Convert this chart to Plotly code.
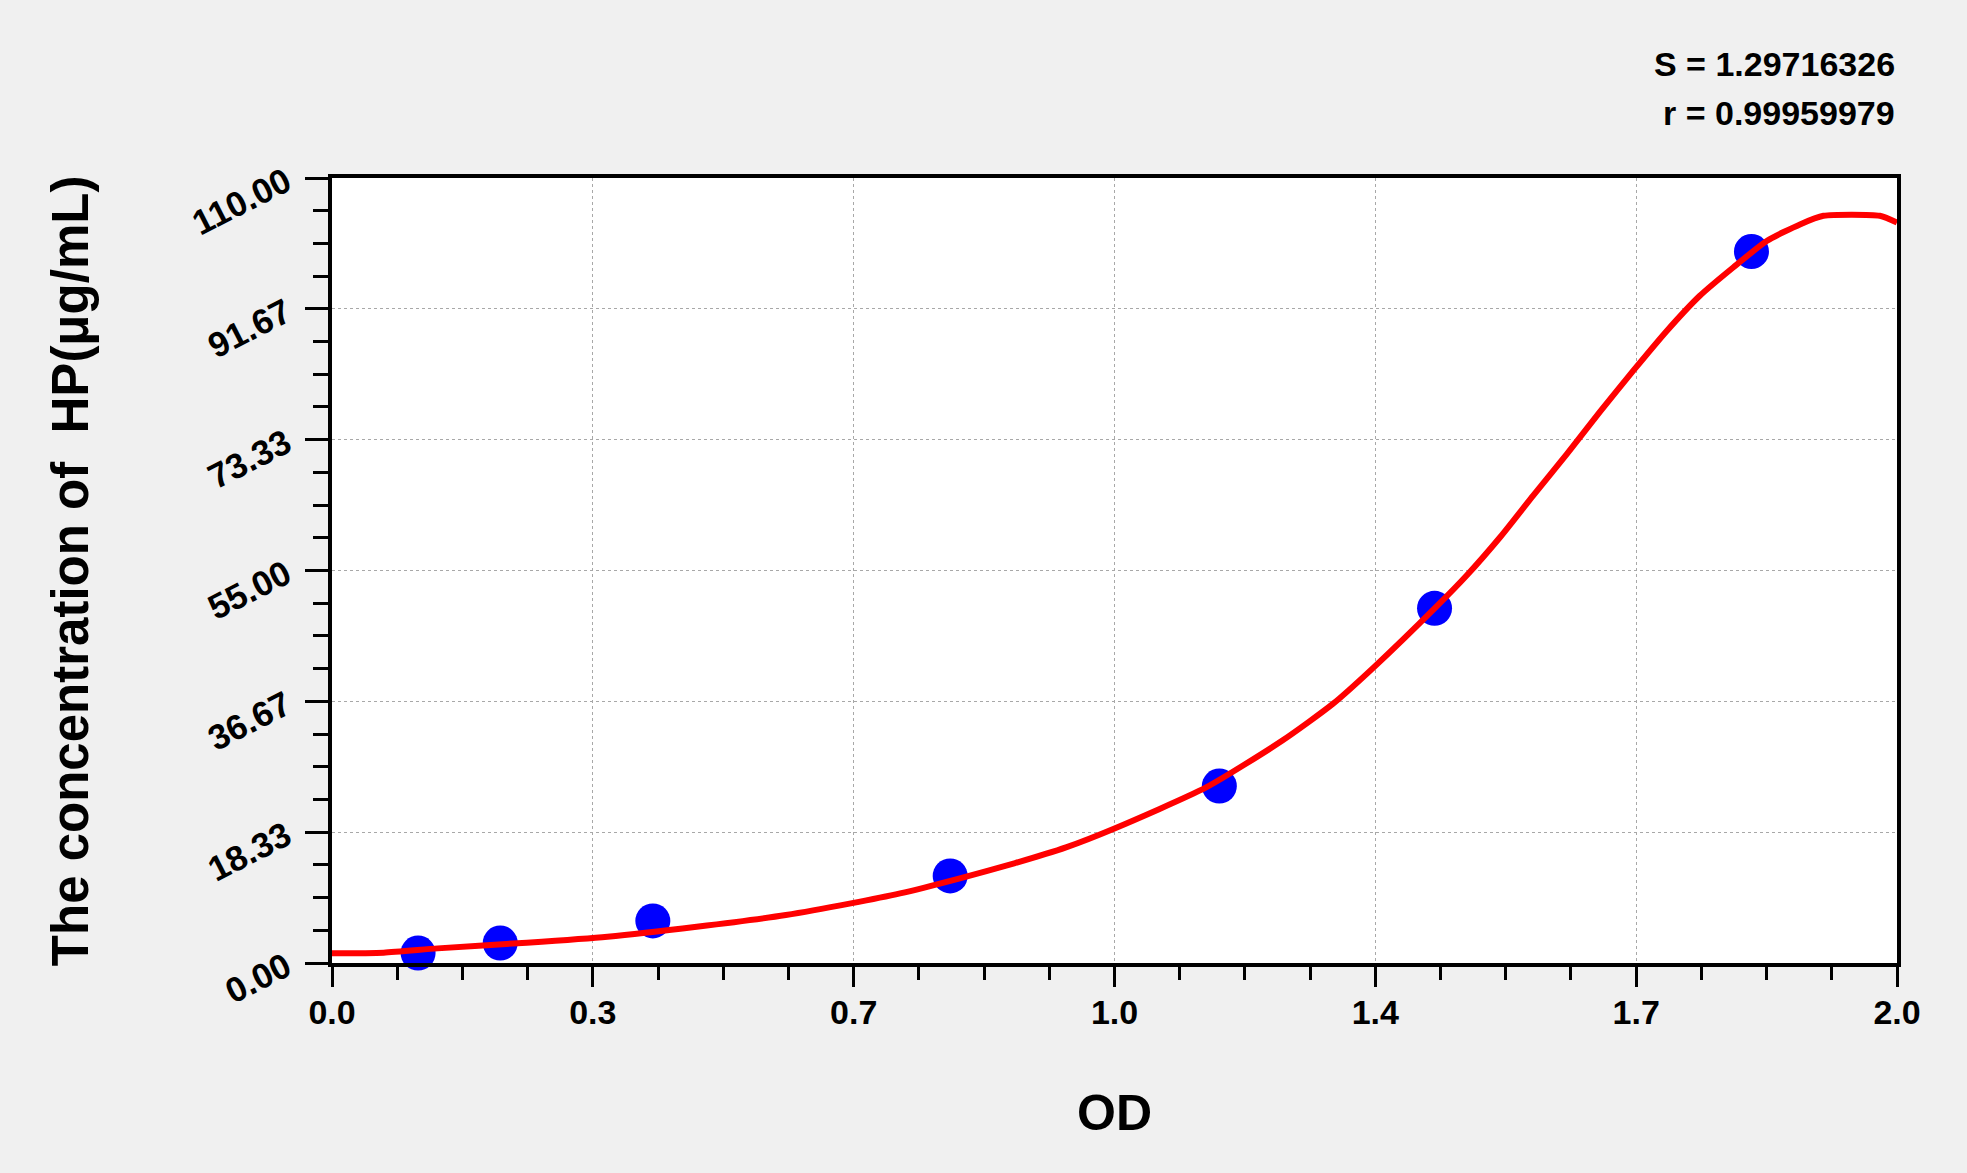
import plotly.graph_objects as go

# Standard points (OD, concentration)
od_points = [0.110, 0.215, 0.410, 0.790, 1.134, 1.409, 1.814]
conc_points = [1.4, 2.8, 5.9, 12.2, 24.8, 49.7, 99.7]

# Fitted curve
curve_od = [0.0, 0.066, 0.135, 0.249, 0.352, 0.466, 0.580, 0.663, 0.726, 0.800,
            0.873, 0.938, 1.000, 1.117, 1.215, 1.279, 1.332, 1.411, 1.450, 1.493, 1.535,
            1.578, 1.620, 1.663, 1.706, 1.748, 1.791, 1.834, 1.876, 1.906, 1.978, 2.0]
curve_conc = [1.36, 1.45, 2.05, 2.85, 3.69, 5.08, 6.72, 8.35, 9.75, 11.8,
              14.0, 16.2, 18.85, 24.6, 31.2, 36.3, 41.5, 49.9, 54.3, 59.7, 65.5,
              71.3, 77.2, 83.0, 88.6, 93.5, 97.5, 101.2, 103.5, 104.7, 104.7, 103.75]

x_tickvals = [0, 1/3, 2/3, 1, 4/3, 5/3, 2]
x_ticktext = ["0.0", "0.3", "0.7", "1.0", "1.4", "1.7", "2.0"]
y_tickvals = [0, 110/6, 220/6, 55, 440/6, 550/6, 110]
y_ticktext = ["0.00", "18.33", "36.67", "55.00", "73.33", "91.67", "110.00"]

stat_s = "S = 1.29716326"
stat_r = "r = 0.99959979"
x_title = "OD"
y_title = "The concentration of  HP(μg/mL)"

FONT = "Liberation Sans, Arial, sans-serif"

fig = go.Figure()
fig.add_trace(go.Scatter(
    x=od_points, y=conc_points, mode="markers",
    marker=dict(size=35, color="#0000FF", line=dict(width=0)),
    showlegend=False, cliponaxis=False))
fig.add_trace(go.Scatter(
    x=curve_od, y=curve_conc, mode="lines",
    line=dict(color="#FF0000", width=6, shape="spline", smoothing=0.6),
    showlegend=False))

fig.update_layout(
    width=1967, height=1173,
    paper_bgcolor="#F0F0F0", plot_bgcolor="#FFFFFF",
    margin=dict(l=332, r=70, t=178, b=210),
    font=dict(family=FONT, color="black"),
    xaxis=dict(
        range=[0, 2], tickmode="array", tickvals=x_tickvals, ticktext=x_ticktext,
        showline=True, linecolor="black", linewidth=4, mirror=True,
        ticks="outside", ticklen=20, tickwidth=3, tickcolor="black",
        tickfont=dict(size=34, family=FONT, weight="bold"),
        ticklabelstandoff=-4,
        showgrid=True, gridcolor="#A8A8A8", gridwidth=1, griddash="3px,3px",
        zeroline=False,
        minor=dict(tickmode="linear", tick0=0, dtick=1/12, ticks="outside",
                   ticklen=13, tickwidth=3, tickcolor="black", showgrid=False),
    ),
    yaxis=dict(
        range=[0, 110], tickmode="array", tickvals=y_tickvals, ticktext=y_ticktext,
        showline=True, linecolor="black", linewidth=4, mirror=True,
        ticks="outside", ticklen=23, tickwidth=3, tickcolor="black",
        tickangle=-27,
        tickfont=dict(size=35, family=FONT, weight="bold"),
        ticklabelstandoff=12,
        showgrid=True, gridcolor="#A8A8A8", gridwidth=1, griddash="3px,3px",
        zeroline=False,
        minor=dict(tickmode="linear", tick0=0, dtick=110/24, ticks="outside",
                   ticklen=15, tickwidth=3, tickcolor="black", showgrid=False),
    ),
    annotations=[
        dict(text=stat_s, xref="paper", yref="paper", x=1.0, y=1.145,
             xanchor="right", yanchor="middle", showarrow=False,
             font=dict(size=34, family=FONT, weight="bold")),
        dict(text=stat_r, xref="paper", yref="paper", x=1.0, y=1.0827,
             xanchor="right", yanchor="middle", showarrow=False,
             font=dict(size=34, family=FONT, weight="bold")),
        dict(text=x_title, xref="paper", yref="paper", x=0.5, y=-0.1908,
             xanchor="center", yanchor="middle", showarrow=False,
             font=dict(size=50, family=FONT, weight="bold")),
        dict(text=y_title, xref="paper", yref="paper", x=-0.167, y=0.5,
             xanchor="center", yanchor="middle", showarrow=False, textangle=-90,
             font=dict(size=51, family=FONT, weight="bold")),
    ],
)

fig.write_html("out.html",
               config={"displayModeBar": False},
               post_script="document.body.style.margin='0';"
                           "document.body.style.background='#F0F0F0';")
